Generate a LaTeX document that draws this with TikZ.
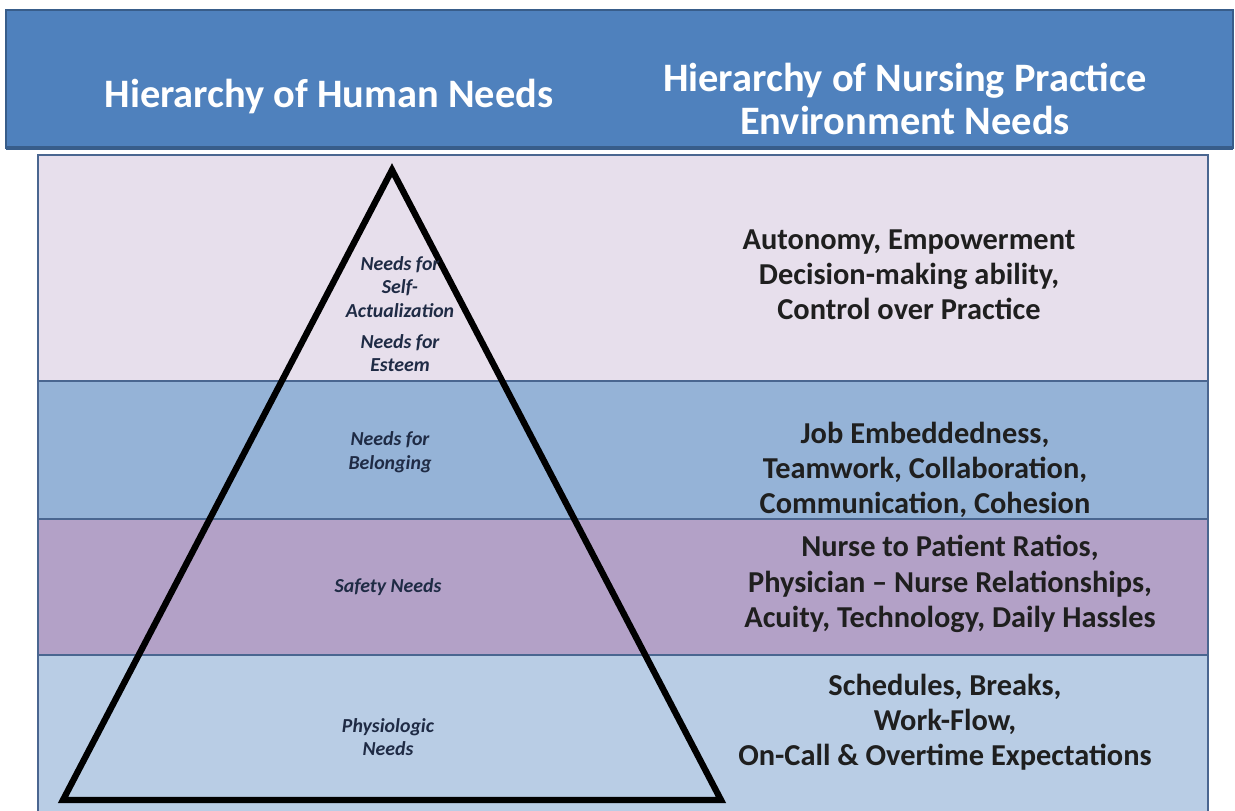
\documentclass[tikz,border=0pt]{standalone}
\usepackage{fontspec}
\setmainfont{Carlito}
\usetikzlibrary{positioning}

\definecolor{headblue}{HTML}{4F81BD}
\definecolor{headedge}{HTML}{385D8A}
\definecolor{bandedge}{HTML}{4A6690}
\definecolor{bandtop}{HTML}{E7DFEC}
\definecolor{bandbelong}{HTML}{95B3D7}
\definecolor{bandsafety}{HTML}{B3A1C7}
\definecolor{bandphysio}{HTML}{B9CDE5}
\definecolor{needink}{HTML}{1F2B45}

\begin{document}
\begin{tikzpicture}[
    x=0.02cm, y=-0.02cm, % one unit per pixel, y runs downwards
    header/.style={fill=headblue, draw=headedge, line width=1.5pt}, % title bar
    band/.style={draw=bandedge, line width=0.9pt}, % coloured level bands
    pyramid/.style={draw=black, line width=3.6pt, line join=miter}, % the triangle
    headtext/.style={text=white, font=\fontsize{23}{24}\selectfont\bfseries, align=center},
    needtext/.style={text=needink, font=\fontsize{11.3}{13.5}\selectfont\bfseries\itshape, align=center},
    practext/.style={text=black!88, font=\fontsize{17.3}{20}\selectfont\bfseries, align=center}
]

    \useasboundingbox (0,0) rectangle (1235,811);

    % Title bar, with a darker lower edge
    \draw[header] (6,10) rectangle (1233,148);
    \draw[headedge, line width=2.5pt] (6,148) -- (1233,148);
    \node[headtext] (humanhead) at (329,97) {Hierarchy of Human Needs};
    \node[headtext] (nursehead) at (905,99) {Hierarchy of Nursing Practice\\Environment Needs};

    % Level bands, top to bottom
    \draw[band, fill=bandtop]    (38,155) rectangle (1208,381);
    \draw[band, fill=bandbelong] (38,381) rectangle (1208,519);
    \draw[band, fill=bandsafety] (38,519) rectangle (1208,655);
    \draw[band, fill=bandphysio] (38,655) rectangle (1208,830);

    % Maslow pyramid
    \coordinate (apex) at (392,170);
    \coordinate (baseleft) at (63,800);
    \coordinate (baseright) at (721,800);
    \draw[pyramid] (apex) -- (baseleft) -- (baseright) -- cycle;

    % Human needs inside the pyramid
    \node[needtext] (selfact) at (400,287) {Needs for\\Self-\\Actualization};
    \node[needtext] (esteem) at (400,353) {Needs for\\Esteem};
    \node[needtext] (belong) at (390,452) {Needs for\\Belonging};
    \node[needtext] (safety) at (388,587) {Safety Needs};
    \node[needtext] (physio) at (388,737) {Physiologic\\Needs};

    % Practice environment needs on the right
    \node[practext] (autonomy) at (909,275) {Autonomy, Empowerment\\Decision-making ability,\\Control over Practice};
    \node[practext] (teamwork) at (925,470) {Job Embeddedness,\\Teamwork, Collaboration,\\Communication, Cohesion};
    \node[practext] (ratios) at (950,584) {Nurse to Patient Ratios,\\Physician -- Nurse Relationships,\\Acuity, Technology, Daily Hassles};
    \node[practext] (schedule) at (945,722) {Schedules, Breaks,\\Work-Flow,\\On-Call \& Overtime Expectations};

\end{tikzpicture}
\end{document}
